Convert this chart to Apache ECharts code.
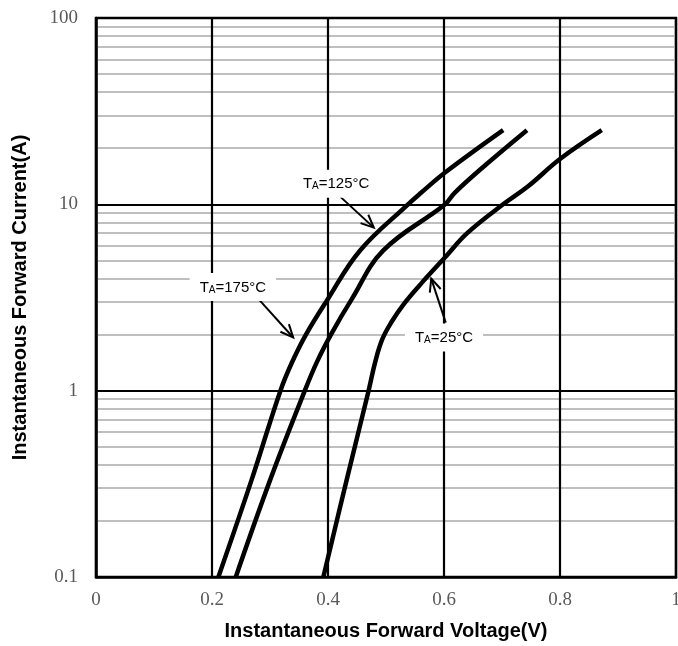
<!DOCTYPE html>
<html>
<head>
<meta charset="utf-8">
<script src="https://cdn.jsdelivr.net/npm/echarts@6/dist/echarts.min.js"></script>
<style>
html,body{margin:0;padding:0;background:#fff;overflow:hidden;width:678px;height:646px;}
#main{width:678px;height:646px;position:absolute;left:0;top:0;}
</style>
</head>
<body>
<div id="main"></div>
<script>
// X ticks (V) and Y decades (A)
var xTicks = [0, 0.2, 0.4, 0.6, 0.8, 1];
var yDecades = [0.1, 1, 10, 100];
var minorY = [0.2,0.3,0.4,0.5,0.6,0.7,0.8,0.9, 2,3,4,5,6,7,8,9, 20,30,40,50,60,70,80,90];

// TA = 175 C
var v175 = [0.211, 0.268, 0.318, 0.338, 0.362, 0.398, 0.455, 0.538, 0.560, 0.603, 0.702];
var i175 = [0.1, 0.33, 1, 1.42, 2.0, 3.04, 5.64, 10, 11.5, 14.9, 25];
// TA = 125 C
var v125 = [0.241, 0.300, 0.360, 0.382, 0.407, 0.441, 0.495, 0.602, 0.618, 0.674, 0.743];
var i125 = [0.1, 0.33, 1, 1.45, 2.05, 3.1, 5.64, 10, 11.5, 16.5, 25];
// TA = 25 C
var v25 = [0.392, 0.432, 0.470, 0.482, 0.494, 0.510, 0.530, 0.562, 0.602, 0.640, 0.702, 0.745, 0.80, 0.872];
var i25 = [0.1, 0.33, 1, 1.45, 1.9, 2.35, 2.9, 3.8, 5.2, 7.0, 10, 12.5, 17.5, 25];

// annotation labels: [temperature text, label pos, arrow start, arrow end] in data units
var annTemp = ['125°C', '175°C', '25°C'];
var annLabel = [[0.414, 12.9], [0.236, 3.6], [0.600, 1.93]];
var annFrom = [[0.421, 11.0], [0.278, 3.16], [0.603, 2.32]];
var annTo = [[0.479, 7.5], [0.340, 1.93], [0.578, 3.99]];

function zip(a, b) { return a.map(function (v, k) { return [v, b[k]]; }); }

var chart = echarts.init(document.getElementById('main'), null, {renderer: 'canvas', width: 678, height: 646});

function curve(name, v, i) {
  return {
    name: name, type: 'line', data: zip(v, i), smooth: 0.4, symbol: 'none', z: 10,
    lineStyle: {color: '#000', width: 4.5}, silent: true
  };
}

var labelFont = {fontFamily: '"Liberation Serif", "DejaVu Serif", serif', fontSize: 19, color: '#595959'};

chart.setOption({
  animation: false,
  backgroundColor: '#fff',
  grid: {left: 96, top: 18, right: 2, bottom: 69, containLabel: false, outerBoundsMode: 'none',
         show: true, borderColor: '#000', borderWidth: 2.5, backgroundColor: '#fff'},
  xAxis: {
    type: 'value', min: 0, max: 1, interval: 0.2, z: 5,
    name: 'Instantaneous Forward Voltage(V)', nameLocation: 'middle', nameGap: 44,
    nameTextStyle: {fontFamily: '"Liberation Sans", Arial, sans-serif', fontWeight: 'bold', fontSize: 20, color: '#000'},
    axisLine: {show: true, lineStyle: {color: '#000', width: 2.5}},
    axisTick: {show: false},
    axisLabel: Object.assign({margin: 14}, labelFont),
    splitLine: {show: true, lineStyle: {color: '#000', width: 2.2}}
  },
  yAxis: {
    type: 'log', logBase: 10, min: 0.1, max: 100, z: 5,
    name: 'Instantaneous Forward Current(A)', nameLocation: 'middle', nameGap: 66, nameRotate: 90,
    nameTextStyle: {fontFamily: '"Liberation Sans", Arial, sans-serif', fontWeight: 'bold', fontSize: 20, color: '#000'},
    axisLine: {show: true, lineStyle: {color: '#000', width: 2.5}},
    axisTick: {show: false},
    axisLabel: Object.assign({margin: 18}, labelFont),
    splitLine: {show: true, lineStyle: {color: '#000', width: 2.2}}
  },
  series: [
    {
      name: 'minor', type: 'line', data: [], silent: true, z: 1,
      markLine: {
        silent: true, symbol: ['none', 'none'], z: 1, animation: false,
        label: {show: false},
        lineStyle: {color: '#bfbfbf', width: 2, type: 'solid'},
        data: minorY.map(function (y) { return {yAxis: y}; })
      }
    },
    curve('TA=175°C', v175, i175),
    curve('TA=125°C', v125, i125),
    curve('TA=25°C', v25, i25)
  ]
});

function px(p) { return chart.convertToPixel({gridIndex: 0}, p); }

var graphics = [];
annTemp.forEach(function (t, k) {
  var s = px(annFrom[k]), e = px(annTo[k]);
  var ang = Math.atan2(e[1] - s[1], e[0] - s[0]);
  var L = 14, spread = 0.42;
  var h1 = [e[0] - L * Math.cos(ang - spread), e[1] - L * Math.sin(ang - spread)];
  var h2 = [e[0] - L * Math.cos(ang + spread), e[1] - L * Math.sin(ang + spread)];
  graphics.push({type: 'polyline', z: 50, shape: {points: [s, e]}, style: {stroke: '#000', lineWidth: 2, fill: null}});
  graphics.push({type: 'polyline', z: 50, shape: {points: [h1, e, h2]}, style: {stroke: '#000', lineWidth: 2, fill: null}});
  var c = px(annLabel[k]);
  graphics.push({
    type: 'text', z: 60, x: c[0], y: c[1],
    style: {
      text: '{a|T}{b|A}{a|=' + t + '}',
      align: 'center', verticalAlign: 'middle',
      backgroundColor: '#fff', padding: [6, 10],
      rich: {
        a: {fontFamily: '"Liberation Sans", Arial, sans-serif', fontSize: 15, fill: '#000', color: '#000', verticalAlign: 'bottom', lineHeight: 16},
        b: {fontFamily: '"Liberation Sans", Arial, sans-serif', fontSize: 10, fill: '#000', color: '#000', verticalAlign: 'bottom', lineHeight: 16}
      }
    }
  });
});
chart.setOption({graphic: graphics});
</script>
</body>
</html>
